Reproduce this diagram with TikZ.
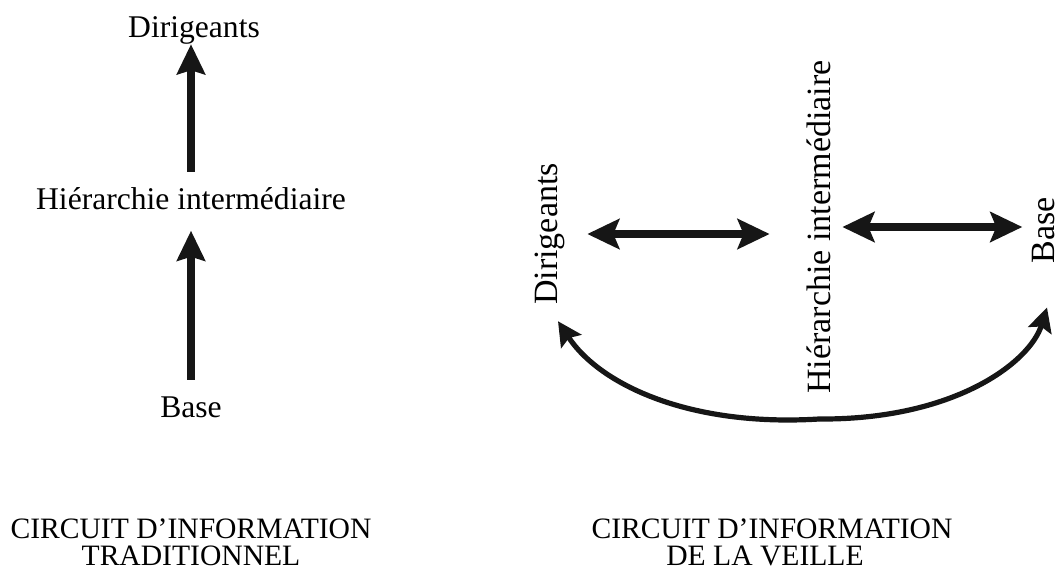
\documentclass[tikz,border=0pt]{standalone}
\usepackage{fontspec}
\setmainfont{Liberation Serif}
\usetikzlibrary{arrows.meta}
\definecolor{ink}{HTML}{161616}
\begin{document}
\begin{tikzpicture}[x=0.5pt,y=-0.5pt,
  lbl/.style={inner sep=0pt,font=\fontsize{15.8}{18}\selectfont},
  vlbl/.style={inner sep=0pt,rotate=90,font=\fontsize{17}{20}\selectfont},
  capt/.style={inner sep=0pt,anchor=base,font=\fontsize{14.8}{17}\selectfont},
  uparr/.style={draw=ink,line width=3.8pt,-{Stealth[length=15pt,width=14pt,inset=2pt]}},
  dblarr/.style={draw=ink,line width=4pt,{Stealth[length=16pt,width=15pt,inset=3pt]}-{Stealth[length=16pt,width=15pt,inset=3pt]}},
  curvarr/.style={draw=ink,line width=2.6pt,-{Stealth[length=12pt,width=12pt,inset=2pt]}}]
\useasboundingbox (0,0) rectangle (1061,580);

% traditional circuit
\node[lbl,anchor=base] (dirL) at (194,37) {Dirigeants};
\node[lbl,anchor=base] (hierL) at (191,209) {Hiérarchie intermédiaire};
\node[lbl,anchor=base] (baseL) at (191,417) {Base};
\draw[uparr,shorten <=7.5pt,shorten >=0pt] (hierL.north) -- (hierL.north |- dirL.south);
\draw[uparr,shorten <=8pt,shorten >=10.5pt] (baseL.north) -- (baseL.north |- hierL.south);

\node[capt] (capL1) at (191,538) {CIRCUIT D’INFORMATION};
\node[capt] (capL2) at (191,565) {TRADITIONNEL};

% watch circuit
\node[vlbl] (dirR) at (550,234) {Dirigeants};
\node[vlbl] (hierR) at (819,227) {Hiérarchie intermédiaire};
\node[vlbl] (baseR) at (1044,230) {Base};

\draw[dblarr,shorten <=11pt,shorten >=18.5pt] (dirR.south) -- (dirR.south -| hierR.north);
\draw[dblarr,shorten <=5.5pt,shorten >=5pt] (hierR.south) -- (hierR.south -| baseR.north);

\coordinate (fork) at ([yshift=-12.5pt]hierR.west);
\draw[curvarr] (fork) .. controls (690,427) and (600,385) .. ([xshift=4pt,yshift=-8pt]dirR.west);
\draw[curvarr] (fork) .. controls (955,420) and (1030,362) .. ([xshift=1.5pt,yshift=-22pt]baseR.west);

\node[capt] (capR1) at (772,538) {CIRCUIT D’INFORMATION};
\node[capt] (capR2) at (765,565) {DE LA VEILLE};
\end{tikzpicture}
\end{document}
